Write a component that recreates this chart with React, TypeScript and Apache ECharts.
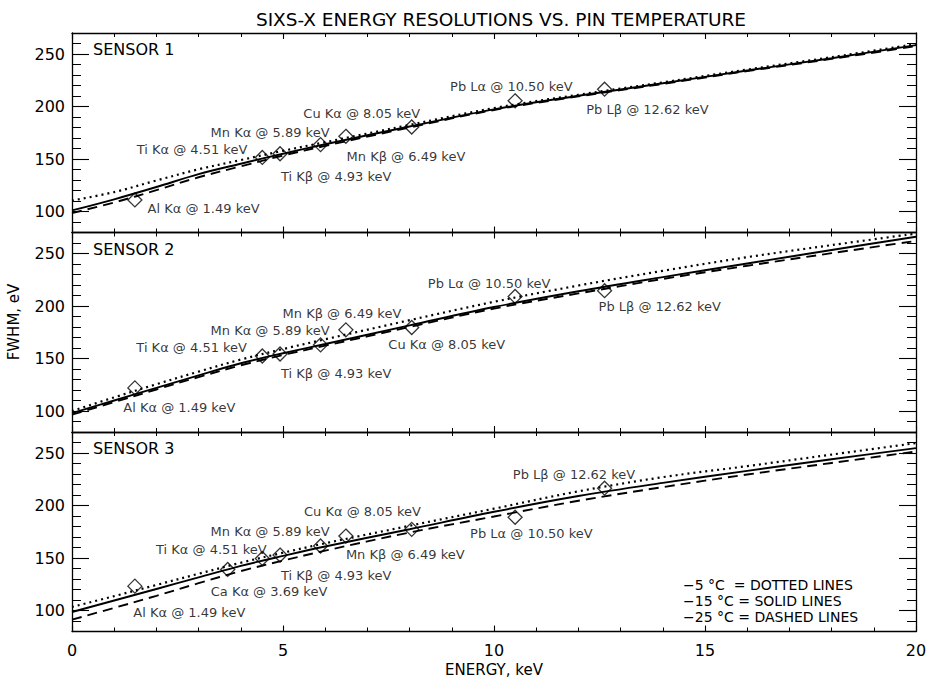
import React, { useEffect, useRef } from 'react';
import * as echarts from 'echarts';

// ---------- data ----------
const curveEnergy = [0, 1, 2, 3, 4, 5, 6, 8, 10, 12, 14, 16, 18, 20];

const s1Dotted = [110.4, 118.5, 129.5, 140.2, 149, 157.8, 166, 182.5, 198.5, 211.2, 223, 235.2, 247, 259.5];
const s1Solid = [101, 111.6, 123.3, 135.6, 145.5, 155, 164, 181, 197.3, 210.2, 222.1, 234.3, 246, 258.5];
const s1Dashed = [98.5, 108.6, 120.3, 132.6, 143, 153.3, 162.5, 180, 196.7, 209.6, 221.5, 233.7, 245.3, 257.5];

const s2Dotted = [100, 113, 125.5, 137.5, 149, 159, 168.3, 186.5, 204, 219.5, 233.5, 246.5, 258, 269];
const s2Solid = [98, 110, 122, 134, 145.5, 155, 163.8, 181.5, 199, 214, 227.5, 240.5, 253.3, 266];
const s2Dashed = [96.5, 108.5, 120.5, 132.3, 143.5, 153.3, 162.2, 180, 197.5, 212, 225.7, 238.3, 250.3, 262];

const s3Dotted = [103.4, 113.7, 124.3, 135, 145.5, 155, 164, 180.7, 197, 213.5, 227, 237.5, 248.5, 259.4];
const s3Solid = [98.6, 109.5, 120.5, 131.5, 142.5, 152, 161, 177.4, 194, 209, 221.5, 233, 244, 254.6];
const s3Dashed = [91.3, 102.5, 114, 126, 137.5, 147.5, 157, 174.3, 189.5, 204.5, 217.5, 229.5, 240.5, 251.4];

const lineEnergy12 = [1.49, 4.51, 4.93, 5.89, 6.49, 8.05, 10.5, 12.62];
const lineLabels12 = [
  'Al Kα @ 1.49 keV',
  'Ti Kα @ 4.51 keV',
  'Ti Kβ @ 4.93 keV',
  'Mn Kα @ 5.89 keV',
  'Mn Kβ @ 6.49 keV',
  'Cu Kα @ 8.05 keV',
  'Pb Lα @ 10.50 keV',
  'Pb Lβ @ 12.62 keV',
];
const sensor1Fwhm = [111, 151.5, 155, 163.7, 171.6, 180.5, 205.4, 216.5];
const sensor2Fwhm = [122, 152.4, 154.3, 163, 177.3, 179.5, 209.1, 214.6];

const lineEnergy3 = [1.49, 3.69, 4.51, 4.93, 5.89, 6.49, 8.05, 10.5, 12.62];
const lineLabels3 = [
  'Al Kα @ 1.49 keV',
  'Ca Kα @ 3.69 keV',
  'Ti Kα @ 4.51 keV',
  'Ti Kβ @ 4.93 keV',
  'Mn Kα @ 5.89 keV',
  'Mn Kβ @ 6.49 keV',
  'Cu Kα @ 8.05 keV',
  'Pb Lα @ 10.50 keV',
  'Pb Lβ @ 12.62 keV',
];
const sensor3Fwhm = [123.2, 139.1, 149.6, 152.8, 161.4, 170.9, 177.3, 188.8, 216.5];

const sensorNames = ['SENSOR 1', 'SENSOR 2', 'SENSOR 3'];
const xTicks = [0, 5, 10, 15, 20];
const yMajorTicks = [100, 150, 200, 250];
const yMinorTicks = [90, 110, 120, 130, 140, 160, 170, 180, 190, 210, 220, 230, 240, 260];
const legendLines = ['−5 °C  = DOTTED LINES', '−15 °C = SOLID LINES', '−25 °C = DASHED LINES'];
const titleText = 'SIXS-X ENERGY RESOLUTIONS VS. PIN TEMPERATURE';

// ---------- layout (label offsets relative to each diamond) ----------
const labelLayout1: [number, number, string][] = [
  [12.7, 8.4, 'left'], [-15, -7.7, 'right'], [1, 22.7, 'left'], [-110, -12.6, 'left'],
  [0.7, 19.7, 'left'], [-108.4, -13.4, 'left'], [-65, -14, 'left'], [-18.3, 20, 'left'],
];
const labelLayout2: [number, number, string][] = [
  [-11.6, 19.6, 'left'], [-15.3, -8.7, 'right'], [1, 20, 'left'], [-110, -14, 'left'],
  [-63.3, -16, 'left'], [-23.4, 16.6, 'left'], [-87.3, -13.4, 'left'], [-6, 16.3, 'left'],
];
const labelLayout3: [number, number, string][] = [
  [-1.6, 26.3, 'left'], [-17, 21.7, 'left'], [-106.3, -9, 'left'], [1, 20, 'left'],
  [-110, -14.3, 'left'], [0, 18, 'left'], [-107.7, -17.6, 'left'], [-45, 16, 'left'], [-91.7, -13.3, 'left'],
];

const FONT = '"DejaVu Sans", sans-serif';
const GRID_LEFT = 72;
const GRID_WIDTH = 844;
const GRID_TOPS = [33, 232.5, 432];
const GRID_HEIGHT = 199.5;

function buildOption() {
  const sensors = [
    { dotted: s1Dotted, solid: s1Solid, dashed: s1Dashed, energy: lineEnergy12, fwhm: sensor1Fwhm, labels: lineLabels12, layout: labelLayout1 },
    { dotted: s2Dotted, solid: s2Solid, dashed: s2Dashed, energy: lineEnergy12, fwhm: sensor2Fwhm, labels: lineLabels12, layout: labelLayout2 },
    { dotted: s3Dotted, solid: s3Solid, dashed: s3Dashed, energy: lineEnergy3, fwhm: sensor3Fwhm, labels: lineLabels3, layout: labelLayout3 },
  ];
  const axisLineStyle = { color: '#000', width: 1.3 };
  const grid: any[] = [];
  const xAxis: any[] = [];
  const yAxis: any[] = [];
  const series: any[] = [];
  const graphic: any[] = [];

  sensors.forEach((s, i) => {
    grid.push({ left: GRID_LEFT, top: GRID_TOPS[i], width: GRID_WIDTH, height: GRID_HEIGHT });
    ['bottom', 'top'].forEach((pos) => {
      xAxis.push({
        gridIndex: i,
        type: 'value',
        position: pos,
        min: 0,
        max: 20,
        interval: 5,
        axisLine: { show: true, onZero: false, lineStyle: axisLineStyle },
        axisTick: { show: true, inside: true, length: 6, lineStyle: { color: '#000', width: 1.1 } },
        minorTick: { show: true, splitNumber: 5, length: 4, lineStyle: { color: '#000', width: 1 } },
        axisLabel: {
          show: i === 2 && pos === 'bottom',
          customValues: xTicks,
          color: '#000',
          fontSize: 16,
          fontFamily: FONT,
          margin: 11,
        },
        splitLine: { show: false },
        minorSplitLine: { show: false },
      });
    });
    ['left', 'right'].forEach((pos) => {
      yAxis.push({
        gridIndex: i,
        type: 'value',
        position: pos,
        min: 80,
        max: 270,
        axisLine: { show: true, onZero: false, lineStyle: axisLineStyle },
        axisTick: { show: true, inside: true, length: 17, customValues: yMajorTicks, lineStyle: { color: '#000', width: 1.1 } },
        axisLabel: {
          show: pos === 'left',
          customValues: yMajorTicks,
          color: '#000',
          fontSize: 16,
          fontFamily: FONT,
          margin: 7,
        },
        splitLine: { show: false },
      });
      yAxis.push({
        gridIndex: i,
        type: 'value',
        position: pos,
        min: 80,
        max: 270,
        interval: 10,
        axisLine: { show: false, onZero: false },
        axisTick: { show: true, inside: true, length: 9, customValues: yMinorTicks, lineStyle: { color: '#000', width: 1 } },
        axisLabel: { show: false },
        splitLine: { show: false },
      });
    });

    const xi = i * 2;
    const yi = i * 4;
    const curve = (vals: number[], type: any, width: number, z: number) => ({
      type: 'line',
      xAxisIndex: xi,
      yAxisIndex: yi,
      data: curveEnergy.map((e, k) => [e, vals[k]]),
      smooth: 0.35,
      showSymbol: false,
      silent: true,
      z,
      lineStyle: { color: '#000', width, type },
    });
    series.push(curve(s.dotted, [2, 4], 2.2, 2));
    series.push(curve(s.solid, 'solid', 1.9, 3));
    series.push(curve(s.dashed, [10, 6], 1.9, 2));

    series.push({
      type: 'scatter',
      xAxisIndex: xi,
      yAxisIndex: yi,
      symbol: 'diamond',
      symbolSize: 14,
      z: 5,
      itemStyle: { color: 'rgba(255,255,255,0)', borderColor: '#000', borderWidth: 1.3 },
      label: {
        show: true,
        position: 'inside',
        verticalAlign: 'middle',
        color: '#000',
        textBorderWidth: 0,
        fontSize: 13,
        fontFamily: FONT,
        formatter: (p: any) => s.labels[p.dataIndex],
      },
      data: s.energy.map((e, k) => ({
        value: [e, s.fwhm[k]],
        label: { align: s.layout[k][2], offset: [s.layout[k][0], s.layout[k][1]] },
      })),
    });

    graphic.push({
      type: 'text',
      left: 93,
      top: GRID_TOPS[i] + 16.5 - 8,
      style: { text: sensorNames[i], fill: '#000', fontSize: 16, fontFamily: FONT },
    });
  });

  graphic.push({
    type: 'text',
    x: 494,
    y: 670,
    style: { text: 'ENERGY, keV', fill: '#000', fontSize: 15, fontFamily: FONT, align: 'center', verticalAlign: 'middle' },
  });
  graphic.push({
    type: 'text',
    x: 14,
    y: 322,
    rotation: Math.PI / 2,
    style: { text: 'FWHM, eV', fill: '#000', fontSize: 15, fontFamily: FONT, align: 'center', verticalAlign: 'middle' },
  });
  legendLines.forEach((t, k) => {
    graphic.push({
      type: 'text',
      x: 683,
      y: 585 + k * 16,
      style: { text: t, fill: '#000', fontSize: 14, fontFamily: FONT, align: 'left', verticalAlign: 'middle' },
    });
  });

  return {
    animation: false,
    backgroundColor: '#fff',
    title: {
      text: titleText,
      left: 496,
      top: 5,
      textAlign: 'center',
      textStyle: { color: '#000', fontSize: 18.5, fontWeight: 'normal', fontFamily: FONT },
    },
    grid,
    xAxis,
    yAxis,
    series,
    graphic,
  };
}

export default function App() {
  const ref = useRef<HTMLDivElement>(null);
  useEffect(() => {
    const chart = echarts.init(ref.current!, null, { renderer: 'svg' });
    chart.setOption(buildOption() as any);
    return () => chart.dispose();
  }, []);
  return (
    <div
      ref={ref}
      style={{ position: 'absolute', left: 0, top: 0, width: 933, height: 681, background: '#fff' }}
    />
  );
}
